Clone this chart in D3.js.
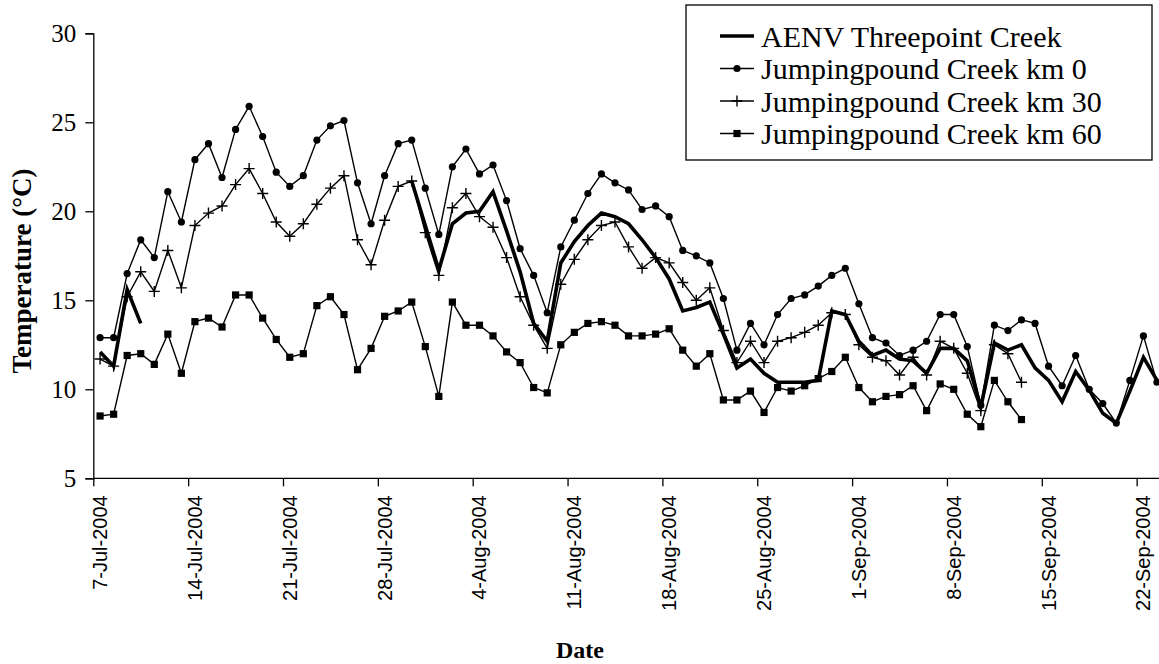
<!DOCTYPE html>
<html>
<head>
<meta charset="utf-8">
<script src="https://cdn.jsdelivr.net/npm/d3@7"></script>
<style>
  html, body { margin: 0; padding: 0; background: #fff; }
  svg { display: block; }
</style>
</head>
<body>
<svg id="chart" width="1159" height="664"></svg>
<script>
// Daily water temperature, 7 Jul 2004 onwards (one value per day)
const firstDay = "2004-07-07";
const dayCount = 79;

const seriesNames = [
  "AENV Threepoint Creek",
  "Jumpingpound Creek km 0",
  "Jumpingpound Creek km 30",
  "Jumpingpound Creek km 60"
];

const aenv = [12.1, 11.3, 15.6, 13.7,
  null, null, null, null, null, null, null, null, null, null,
  null, null, null, null, null, null, null, null, null,
  21.7, 19.2, 16.7, 19.3, 19.9, 20.0, 21.1, 18.9, 16.6, 13.7, 12.7,
  17.1, 18.3, 19.2, 19.9, 19.7, 19.3, 18.4, 17.4, 16.2, 14.4, 14.6,
  14.9, 13.1, 11.2, 11.7, 10.9, 10.4, 10.4, 10.4, 10.5, 14.4, 14.2,
  12.7, 11.9, 12.2, 11.7, 11.6, 10.9, 12.3, 12.3, 11.6, 9.0, 12.6,
  12.2, 12.5, 11.2, 10.5, 9.3, 11.0, 9.95, 8.65, 8.1, 9.9, 11.8, 10.5];

const km0 = [12.9, 12.9, 16.5, 18.4, 17.4, 21.1, 19.4, 22.9, 23.8, 21.9,
  24.6, 25.9, 24.2, 22.2, 21.4, 22.0, 24.0, 24.8, 25.1, 21.6,
  19.3, 22.0, 23.8, 24.0, 21.3, 18.7, 22.5, 23.5, 22.1, 22.6,
  20.6, 17.9, 16.4, 14.3, 18.0, 19.5, 21.0, 22.1, 21.6, 21.2,
  20.1, 20.3, 19.7, 17.8, 17.5, 17.1, 15.1, 12.2, 13.7, 12.5,
  14.2, 15.1, 15.3, 15.8, 16.4, 16.8, 14.8, 12.9, 12.6, 11.9,
  12.2, 12.7, 14.2, 14.2, 12.4, 9.1, 13.6, 13.3, 13.9, 13.7,
  11.3, 10.2, 11.9, 10.0, 9.2, 8.1, 10.5, 13.0, 10.4];

const km30 = [11.7, 11.3, 15.2, 16.6, 15.5, 17.8, 15.7, 19.2, 19.9, 20.3,
  21.5, 22.4, 21.0, 19.4, 18.6, 19.3, 20.4, 21.3, 22.0, 18.4,
  17.0, 19.5, 21.4, 21.7, 18.8, 16.4, 20.2, 21.0, 19.7, 19.1,
  17.4, 15.2, 13.6, 12.3, 15.9, 17.3, 18.4, 19.2, 19.4, 18.0,
  16.8, 17.4, 17.1, 16.0, 15.0, 15.7, 13.3, 11.5, 12.7, 11.5,
  12.7, 12.9, 13.2, 13.6, 14.3, 14.2, 12.5, 11.8, 11.6, 10.8,
  11.8, 10.8, 12.7, 12.3, 10.9, 8.8, 12.5, 12.0, 10.4];

const km60 = [8.5, 8.6, 11.9, 12.0, 11.4, 13.1, 10.9, 13.8, 14.0, 13.5,
  15.3, 15.3, 14.0, 12.8, 11.8, 12.0, 14.7, 15.2, 14.2, 11.1,
  12.3, 14.1, 14.4, 14.9, 12.4, 9.6, 14.9, 13.6, 13.6, 13.0,
  12.1, 11.5, 10.1, 9.8, 12.5, 13.2, 13.7, 13.8, 13.6, 13.0,
  13.0, 13.1, 13.4, 12.2, 11.3, 12.0, 9.4, 9.4, 9.9, 8.7,
  10.1, 9.9, 10.2, 10.6, 11.0, 11.8, 10.1, 9.3, 9.6, 9.7,
  10.2, 8.8, 10.3, 10.0, 8.6, 7.9, 10.5, 9.3, 8.3];

const yTicks = [5, 10, 15, 20, 25, 30];
const tickEveryDays = 7;

// ---------------------------------------------------------------
const svg = d3.select("#chart");
const serif = "'Palatino Linotype','Book Antiqua',Palatino,'Liberation Serif',serif";
const sans = "Arial,'Liberation Sans',sans-serif";

const start = d3.utcParse("%Y-%m-%d")(firstDay);
const dates = d3.utcDay.range(start, d3.utcDay.offset(start, dayCount));

const plot = { left: 93.3, top: 33.3, bottom: 478.3, dayWidth: 13.55 };

// Each day owns one slot; the point sits in the middle of its slot.
const x = d3.scaleUtc()
  .domain([d3.utcHour.offset(start, -12), d3.utcHour.offset(dates[dates.length - 1], 12)])
  .range([plot.left, plot.left + dayCount * plot.dayWidth]);

const y = d3.scaleLinear().domain([5, 30]).range([plot.bottom, plot.top]);

// Y axis
const yAxis = svg.append("g")
  .attr("transform", `translate(${plot.left},0)`)
  .call(d3.axisLeft(y).tickValues(yTicks).tickSize(8).tickPadding(9));
yAxis.select(".domain").attr("stroke", "#000").attr("stroke-width", 1.3);
yAxis.selectAll(".tick line").attr("stroke", "#000").attr("stroke-width", 1.3);
yAxis.selectAll(".tick text")
  .attr("font-family", serif).attr("font-size", 25).attr("fill", "#000");

// X axis: ticks on the week boundaries, labels under the first day of each week
const weekStarts = dates.filter((d, i) => i % tickEveryDays === 0);
const boundaries = weekStarts.map(d => d3.utcHour.offset(d, -12))
  .concat([d3.utcHour.offset(dates[dates.length - 1], 12)]);

const xAxis = svg.append("g")
  .attr("transform", `translate(0,${plot.bottom})`)
  .call(d3.axisBottom(x).tickValues(boundaries).tickSize(8).tickFormat(""));
xAxis.select(".domain").attr("stroke", "#000").attr("stroke-width", 1.3)
  .attr("d", `M${plot.left},0H${plot.left + dayCount * plot.dayWidth + 10}`);
xAxis.selectAll(".tick line").attr("stroke", "#000").attr("stroke-width", 1.3);

const fmt = d3.utcFormat("%-d-%b-%Y");
svg.append("g").selectAll("text")
  .data(weekStarts)
  .join("text")
  .attr("transform", d => `translate(${x(d)},${plot.bottom + 17}) rotate(-90)`)
  .attr("text-anchor", "end")
  .attr("dy", "0.35em")
  .attr("font-family", sans)
  .attr("font-size", 20)
  .attr("fill", "#000")
  .text(fmt);

// Axis titles
svg.append("text")
  .attr("transform", `translate(22,271) rotate(-90)`)
  .attr("text-anchor", "middle")
  .attr("dy", "0.35em")
  .attr("font-family", serif).attr("font-weight", "bold").attr("font-size", 27)
  .text("Temperature (°C)");

svg.append("text")
  .attr("x", 580).attr("y", 658)
  .attr("text-anchor", "middle")
  .attr("font-family", serif).attr("font-weight", "bold").attr("font-size", 24)
  .text("Date");

// Series
const rows = (vals) => vals.map((v, i) => ({ date: dates[i], v }));
const line = d3.line()
  .defined(d => d.v !== null)
  .x(d => x(d.date))
  .y(d => y(d.v));

const plotArea = svg.append("g");

function drawSeries(vals, width, marker) {
  const data = rows(vals);
  plotArea.append("path")
    .datum(data)
    .attr("fill", "none")
    .attr("stroke", "#000")
    .attr("stroke-width", width)
    .attr("stroke-linejoin", "miter")
    .attr("d", line);
  if (marker) {
    const g = plotArea.append("g");
    data.filter(d => d.v !== null).forEach(d => marker(g, x(d.date), y(d.v)));
  }
}

const circleMark = (g, cx, cy) => g.append("circle")
  .attr("cx", cx).attr("cy", cy).attr("r", 3.6).attr("fill", "#000");
const plusMark = (g, cx, cy) => g.append("path")
  .attr("d", `M${cx - 5.5},${cy}H${cx + 5.5}M${cx},${cy - 5.5}V${cy + 5.5}`)
  .attr("stroke", "#000").attr("stroke-width", 1.4).attr("fill", "none");
const squareMark = (g, cx, cy) => g.append("rect")
  .attr("x", cx - 3.6).attr("y", cy - 3.6).attr("width", 7.2).attr("height", 7.2)
  .attr("fill", "#000");

drawSeries(km60, 1.4, squareMark);
drawSeries(km30, 1.4, plusMark);
drawSeries(km0, 1.4, circleMark);
drawSeries(aenv, 3.6, null);

// Legend
const legend = svg.append("g");
legend.append("rect")
  .attr("x", 686).attr("y", 5).attr("width", 466).attr("height", 155)
  .attr("fill", "#fff").attr("stroke", "#000").attr("stroke-width", 1.3);

const markers = [null, circleMark, plusMark, squareMark];
const widths = [3.6, 1.4, 1.4, 1.4];
seriesNames.forEach((name, i) => {
  const cy = 36 + i * 32.5;
  legend.append("line")
    .attr("x1", 720).attr("x2", 754).attr("y1", cy).attr("y2", cy)
    .attr("stroke", "#000").attr("stroke-width", widths[i]);
  if (markers[i]) markers[i](legend, 737, cy);
  legend.append("text")
    .attr("x", 761).attr("y", cy)
    .attr("dy", "0.35em")
    .attr("font-family", serif).attr("font-size", 30)
    .text(name);
});
</script>
</body>
</html>
